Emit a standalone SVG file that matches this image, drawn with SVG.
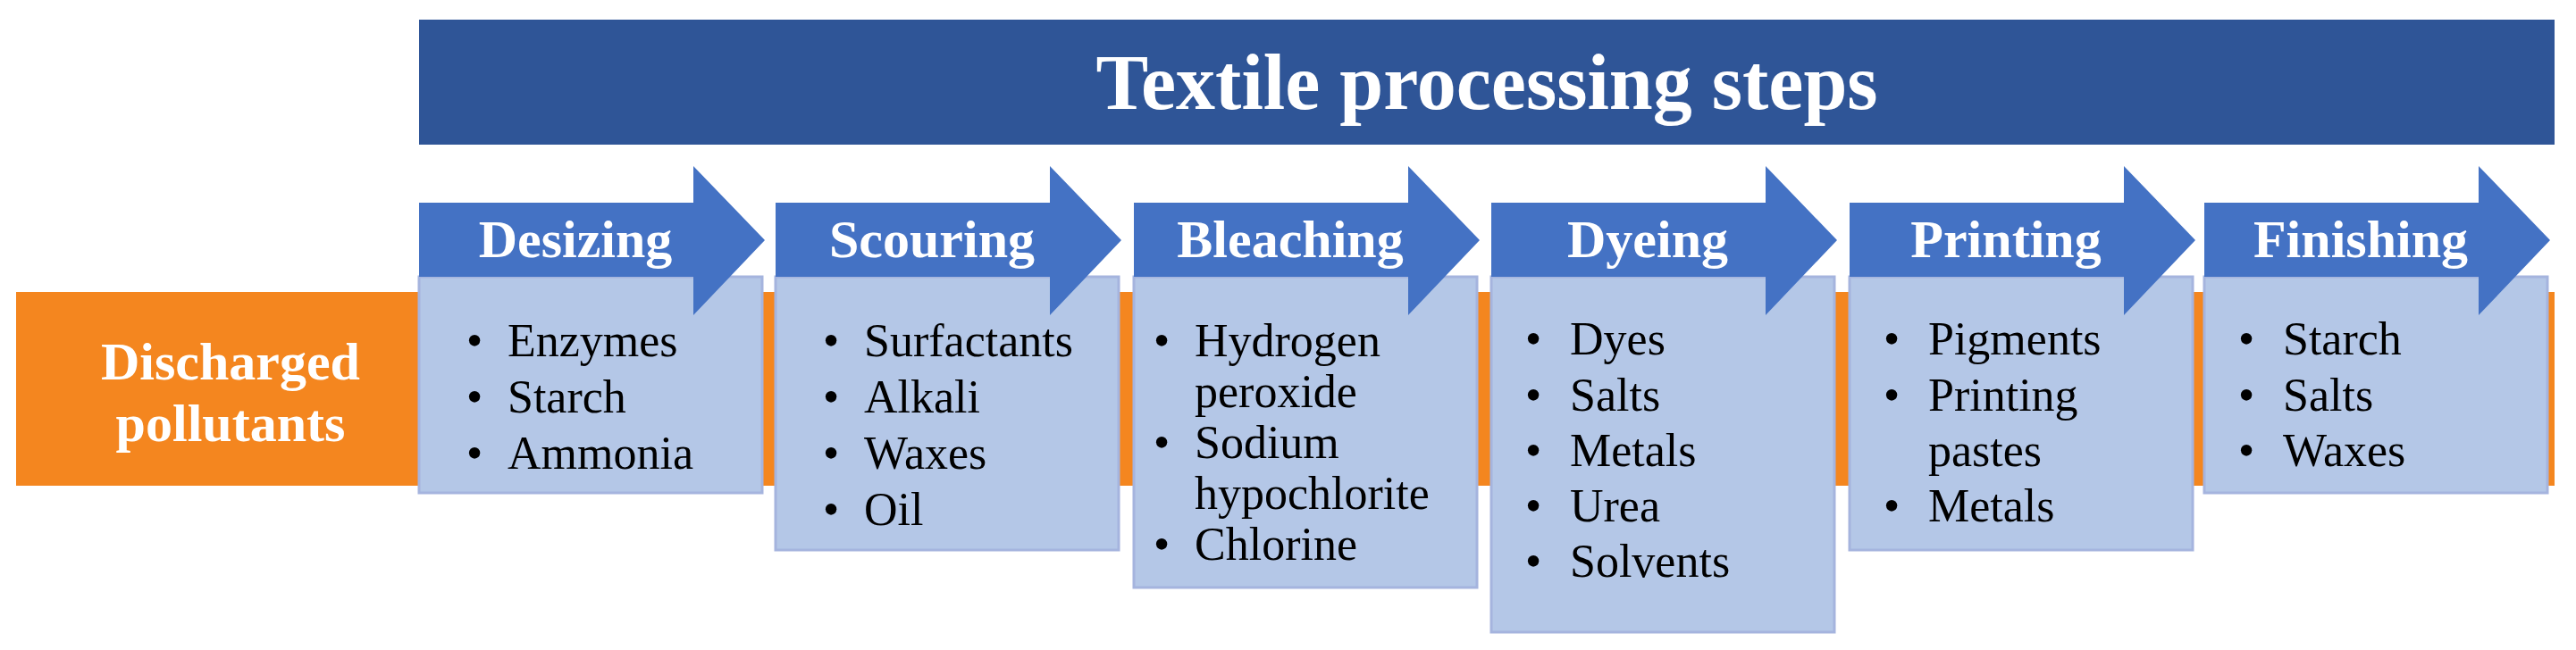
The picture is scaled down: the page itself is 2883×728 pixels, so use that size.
<svg xmlns="http://www.w3.org/2000/svg" width="2883" height="728" viewBox="0 0 2883 728">
<defs>
<style>
.hd{fill:#4472C4}
.bd{fill:#B4C7E7;stroke:#A5B4DE;stroke-width:3}
.ht{font-family:"Liberation Serif",serif;font-weight:bold;font-size:60px;fill:#fff;text-anchor:middle}
.it{font-family:"Liberation Serif",serif;font-size:52px;fill:#000}
</style>
</defs>
<rect width="2883" height="728" fill="#fff"/>
<g id="banner">
<rect x="469" y="22" width="2390" height="140" fill="#2F5597"/>
<text x="1664" y="122" font-family="Liberation Serif,serif" font-weight="bold" font-size="88" fill="#fff" text-anchor="middle">Textile processing steps</text>
</g>
<g id="pollutants">
<rect x="18" y="327" width="2841" height="217" fill="#F4861F"/>
<text x="258" y="425" class="ht">Discharged</text>
<text x="258" y="494" class="ht">pollutants</text>
</g>
<g id="connectors"></g>
<g id="desizing" transform="translate(469,0)">
<rect class="bd" x="0" y="310" width="384" height="242"/>
<polygon class="hd" points="0,227 307,227 307,186 387,269 307,353 307,310 0,310"/>
<text x="175" y="288" class="ht">Desizing</text>
<g class="it"><text x="53" y="399">•</text><text x="99" y="399">Enzymes</text><text x="53" y="462">•</text><text x="99" y="462">Starch</text><text x="53" y="525">•</text><text x="99" y="525">Ammonia</text></g>
</g>
<g id="scouring" transform="translate(868,0)">
<rect class="bd" x="0" y="310" width="384" height="306"/>
<polygon class="hd" points="0,227 307,227 307,186 387,269 307,353 307,310 0,310"/>
<text x="175" y="288" class="ht">Scouring</text>
<g class="it"><text x="53" y="399">•</text><text x="99" y="399">Surfactants</text><text x="53" y="462">•</text><text x="99" y="462">Alkali</text><text x="53" y="525">•</text><text x="99" y="525">Waxes</text><text x="53" y="588">•</text><text x="99" y="588">Oil</text></g>
</g>
<g id="bleaching" transform="translate(1269,0)">
<rect class="bd" x="0" y="310" width="384" height="348"/>
<polygon class="hd" points="0,227 307,227 307,186 387,269 307,353 307,310 0,310"/>
<text x="175" y="288" class="ht">Bleaching</text>
<g class="it"><text x="22" y="399">•</text><text x="68" y="399">Hydrogen</text><text x="68" y="456">peroxide</text><text x="22" y="513">•</text><text x="68" y="513">Sodium</text><text x="68" y="570">hypochlorite</text><text x="22" y="627">•</text><text x="68" y="627">Chlorine</text></g>
</g>
<g id="dyeing" transform="translate(1669,0)">
<rect class="bd" x="0" y="310" width="384" height="398"/>
<polygon class="hd" points="0,227 307,227 307,186 387,269 307,353 307,310 0,310"/>
<text x="175" y="288" class="ht">Dyeing</text>
<g class="it"><text x="38" y="397">•</text><text x="88" y="397">Dyes</text><text x="38" y="460">•</text><text x="88" y="460">Salts</text><text x="38" y="522">•</text><text x="88" y="522">Metals</text><text x="38" y="584">•</text><text x="88" y="584">Urea</text><text x="38" y="646">•</text><text x="88" y="646">Solvents</text></g>
</g>
<g id="printing" transform="translate(2070,0)">
<rect class="bd" x="0" y="310" width="384" height="306"/>
<polygon class="hd" points="0,227 307,227 307,186 387,269 307,353 307,310 0,310"/>
<text x="175" y="288" class="ht">Printing</text>
<g class="it"><text x="38" y="397">•</text><text x="88" y="397">Pigments</text><text x="38" y="460">•</text><text x="88" y="460">Printing</text><text x="88" y="522">pastes</text><text x="38" y="584">•</text><text x="88" y="584">Metals</text></g>
</g>
<g id="finishing" transform="translate(2467,0)">
<rect class="bd" x="0" y="310" width="384" height="242"/>
<polygon class="hd" points="0,227 307,227 307,186 387,269 307,353 307,310 0,310"/>
<text x="175" y="288" class="ht">Finishing</text>
<g class="it"><text x="38" y="397">•</text><text x="88" y="397">Starch</text><text x="38" y="460">•</text><text x="88" y="460">Salts</text><text x="38" y="522">•</text><text x="88" y="522">Waxes</text></g>
</g>
</svg>
